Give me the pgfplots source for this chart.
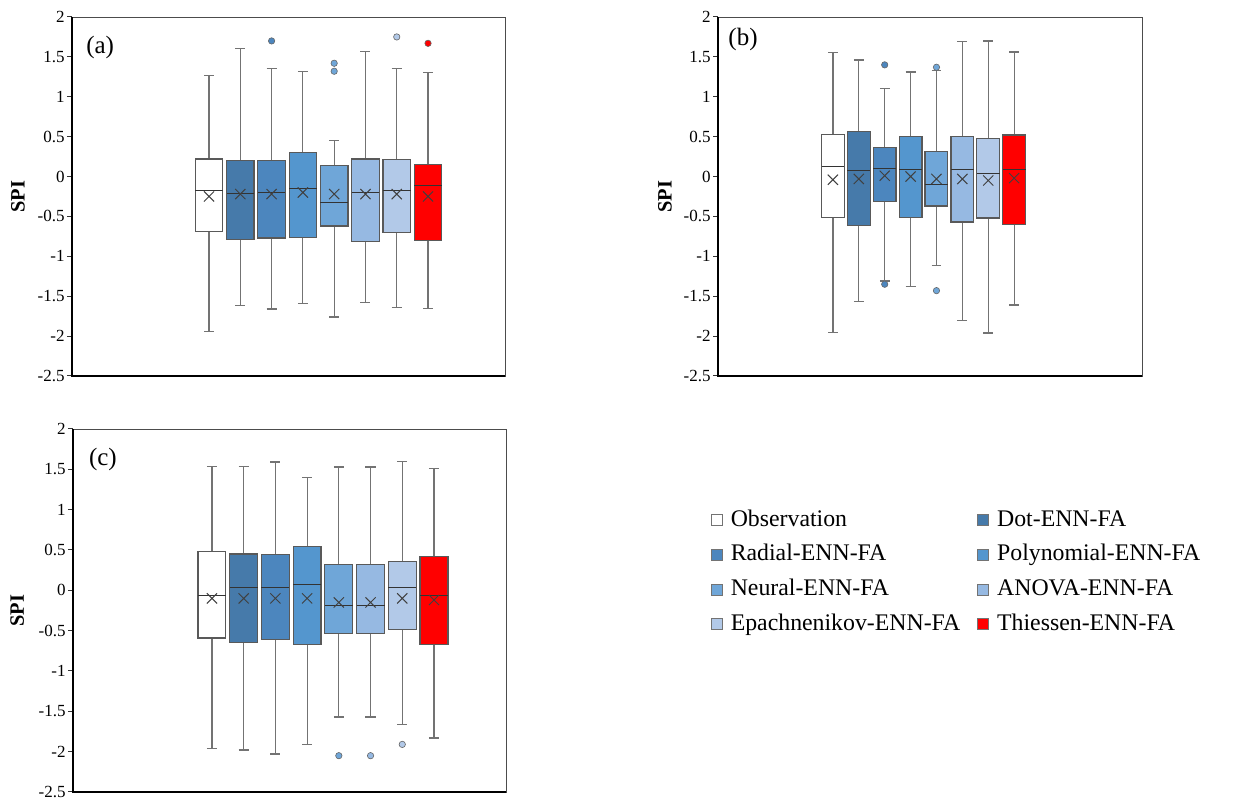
\documentclass[border=0pt]{standalone}
\usepackage{pgfplots}
\pgfplotsset{compat=1.18}
\usepgfplotslibrary{statistics}
\usepackage{fontspec}
\setmainfont{Liberation Serif}

\definecolor{cobs}{RGB}{255,255,255}
\definecolor{cdot}{RGB}{70,122,170}
\definecolor{crad}{RGB}{76,134,190}
\definecolor{cpol}{RGB}{84,150,206}
\definecolor{cneu}{RGB}{111,166,216}
\definecolor{canv}{RGB}{150,185,226}
\definecolor{cepa}{RGB}{178,201,232}
\definecolor{cthi}{RGB}{255,0,0}

\pgfplotsset{
  spipanel/.style={
    scale only axis,
    ymin=-2.5,ymax=2,
    ytick={-2.5,-2,-1.5,-1,-0.5,0,0.5,1,1.5,2},
    yticklabels={-2.5,-2,-1.5,-1,-0.5,0,0.5,1,1.5,2},
    xtick=\empty,
    ytick pos=left,
    tick align=outside,
    major tick length=2.5pt,
    tick style={black!80,line width=0.5pt},
    axis line style={black!70,line width=0.4pt},
    yticklabel style={font=\fontsize{8.5}{10}\selectfont,inner sep=1pt},
    ylabel={\textbf{SPI}},
    ylabel style={font=\fontsize{10.2}{12}\selectfont,anchor=center},
    boxplot/draw direction=y,
    boxplot/box extend=0.88,
    clip=false,
  },
  bx/.style={
    forget plot,
    boxplot/every box/.style={fill=#1,draw=black!65,line width=0.6pt},
    boxplot/every whisker/.style={draw=black!55,line width=0.6pt},
    boxplot/every median/.style={draw=black!80,line width=0.5pt},
  },
  meanx/.style={only marks,mark=x,mark size=3.6pt,forget plot,
    mark options={draw=black!75,line width=0.5pt}},
  outl/.style={only marks,mark=*,mark size=1.6pt,forget plot,
    mark options={fill=#1,draw=black!60,line width=0.3pt}},
  legimg/.style={legend image code/.code={
    \draw[##1,draw=black!55,line width=0.4pt] (0pt,-2.6pt) rectangle (5.5pt,2.9pt);}},
}

\begin{document}
\begin{tikzpicture}
\useasboundingbox (0,0) rectangle (616.5pt,400.5pt);

% ---------------- (a)
\begin{axis}[spipanel,
  at={(36pt,212.5pt)},anchor=south west,
  width=216.5pt,height=179.5pt,
  xmin=-3.38,xmax=10.46,
  ylabel style={at={(axis description cs:-0.125,0.5)}},
  boxplot/whisker extend=0.32]
\addplot[bx=cobs,boxplot prepared={draw position=1,lower whisker=-1.94,lower quartile=-0.69,median=-0.17,upper quartile=0.22,upper whisker=1.27}] coordinates {};
\addplot[bx=cdot,boxplot prepared={draw position=2,lower whisker=-1.62,lower quartile=-0.79,median=-0.21,upper quartile=0.20,upper whisker=1.61}] coordinates {};
\addplot[bx=crad,boxplot prepared={draw position=3,lower whisker=-1.66,lower quartile=-0.77,median=-0.20,upper quartile=0.20,upper whisker=1.35}] coordinates {};
\addplot[bx=cpol,boxplot prepared={draw position=4,lower whisker=-1.59,lower quartile=-0.76,median=-0.15,upper quartile=0.30,upper whisker=1.32}] coordinates {};
\addplot[bx=cneu,boxplot prepared={draw position=5,lower whisker=-1.76,lower quartile=-0.62,median=-0.33,upper quartile=0.14,upper whisker=0.45}] coordinates {};
\addplot[bx=canv,boxplot prepared={draw position=6,lower whisker=-1.58,lower quartile=-0.81,median=-0.20,upper quartile=0.22,upper whisker=1.57}] coordinates {};
\addplot[bx=cepa,boxplot prepared={draw position=7,lower whisker=-1.64,lower quartile=-0.70,median=-0.17,upper quartile=0.21,upper whisker=1.35}] coordinates {};
\addplot[bx=cthi,boxplot prepared={draw position=8,lower whisker=-1.65,lower quartile=-0.80,median=-0.11,upper quartile=0.15,upper whisker=1.30}] coordinates {};
\addplot[meanx] coordinates {(1,-0.25) (2,-0.22) (3,-0.22) (4,-0.20) (5,-0.22) (6,-0.22) (7,-0.22) (8,-0.25)};
\addplot[outl=crad] coordinates {(3,1.70)};
\addplot[outl=cneu] coordinates {(5,1.42) (5,1.32)};
\addplot[outl=cepa] coordinates {(7,1.75)};
\addplot[outl=cthi] coordinates {(8,1.67)};
\draw[black,line width=0.8pt] (rel axis cs:0,1) -- (rel axis cs:0,0) -- (rel axis cs:1,0);
\node[font=\fontsize{12.5}{14}\selectfont] at (rel axis cs:0.065,0.916) {(a)};
\end{axis}

% ---------------- (b)
\begin{axis}[spipanel,
  at={(359pt,212.5pt)},anchor=south west,
  width=212pt,height=179.5pt,
  xmin=-3.44,xmax=12.94,
  ylabel style={at={(axis description cs:-0.125,0.5)}},
  boxplot/whisker extend=0.38]
\addplot[bx=cobs,boxplot prepared={draw position=1,lower whisker=-1.95,lower quartile=-0.51,median=0.12,upper quartile=0.53,upper whisker=1.55}] coordinates {};
\addplot[bx=cdot,boxplot prepared={draw position=2,lower whisker=-1.57,lower quartile=-0.61,median=0.08,upper quartile=0.56,upper whisker=1.46}] coordinates {};
\addplot[bx=crad,boxplot prepared={draw position=3,lower whisker=-1.31,lower quartile=-0.31,median=0.10,upper quartile=0.36,upper whisker=1.10}] coordinates {};
\addplot[bx=cpol,boxplot prepared={draw position=4,lower whisker=-1.38,lower quartile=-0.51,median=0.09,upper quartile=0.50,upper whisker=1.31}] coordinates {};
\addplot[bx=cneu,boxplot prepared={draw position=5,lower whisker=-1.12,lower quartile=-0.37,median=-0.10,upper quartile=0.31,upper whisker=1.33}] coordinates {};
\addplot[bx=canv,boxplot prepared={draw position=6,lower whisker=-1.80,lower quartile=-0.57,median=0.09,upper quartile=0.50,upper whisker=1.69}] coordinates {};
\addplot[bx=cepa,boxplot prepared={draw position=7,lower whisker=-1.96,lower quartile=-0.52,median=0.04,upper quartile=0.48,upper whisker=1.70}] coordinates {};
\addplot[bx=cthi,boxplot prepared={draw position=8,lower whisker=-1.61,lower quartile=-0.60,median=0.09,upper quartile=0.52,upper whisker=1.56}] coordinates {};
\addplot[meanx] coordinates {(1,-0.04) (2,-0.03) (3,0.01) (4,0.00) (5,-0.03) (6,-0.03) (7,-0.05) (8,-0.02)};
\addplot[outl=crad] coordinates {(3,1.40) (3,-1.35)};
\addplot[outl=cneu] coordinates {(5,1.37) (5,-1.43)};
\draw[black,line width=0.8pt] (rel axis cs:0,1) -- (rel axis cs:0,0) -- (rel axis cs:1,0);
\node[font=\fontsize{12.5}{14}\selectfont] at (rel axis cs:0.059,0.936) {(b)};
\end{axis}

% ---------------- (c)
\begin{axis}[spipanel,
  at={(36.5pt,4.5pt)},anchor=south west,
  width=216.5pt,height=181.5pt,
  xmin=-3.38,xmax=10.27,
  ylabel style={at={(axis description cs:-0.129,0.5)}},
  boxplot/whisker extend=0.32,
  legimg,
  legend columns=2,
  legend cell align=left,
  legend style={at={(axis description cs:1.4734,0.7824)},anchor=north west,
    draw=none,fill=none,inner sep=0pt,outer sep=0pt,
    font=\fontsize{11.9}{13}\selectfont,
    nodes={inner sep=1pt,text height=8.2pt,text depth=2.5pt},
    row sep=4.6pt,
    /tikz/every odd column/.append style={column sep=3pt},
    /tikz/every even column/.append style={column sep=7.5pt}}]
\addplot[bx=cobs,boxplot prepared={draw position=1,lower whisker=-1.96,lower quartile=-0.59,median=-0.06,upper quartile=0.48,upper whisker=1.54}] coordinates {};
\addplot[bx=cdot,boxplot prepared={draw position=2,lower whisker=-1.98,lower quartile=-0.65,median=0.04,upper quartile=0.45,upper whisker=1.54}] coordinates {};
\addplot[bx=crad,boxplot prepared={draw position=3,lower whisker=-2.03,lower quartile=-0.61,median=0.04,upper quartile=0.44,upper whisker=1.59}] coordinates {};
\addplot[bx=cpol,boxplot prepared={draw position=4,lower whisker=-1.91,lower quartile=-0.67,median=0.07,upper quartile=0.54,upper whisker=1.40}] coordinates {};
\addplot[bx=cneu,boxplot prepared={draw position=5,lower whisker=-1.57,lower quartile=-0.54,median=-0.19,upper quartile=0.32,upper whisker=1.53}] coordinates {};
\addplot[bx=canv,boxplot prepared={draw position=6,lower whisker=-1.57,lower quartile=-0.54,median=-0.19,upper quartile=0.32,upper whisker=1.53}] coordinates {};
\addplot[bx=cepa,boxplot prepared={draw position=7,lower whisker=-1.66,lower quartile=-0.49,median=0.04,upper quartile=0.36,upper whisker=1.60}] coordinates {};
\addplot[bx=cthi,boxplot prepared={draw position=8,lower whisker=-1.83,lower quartile=-0.67,median=-0.06,upper quartile=0.42,upper whisker=1.51}] coordinates {};
\addplot[meanx] coordinates {(1,-0.10) (2,-0.10) (3,-0.10) (4,-0.10) (5,-0.15) (6,-0.15) (7,-0.10) (8,-0.12)};
\addplot[outl=cneu] coordinates {(5,-2.05)};
\addplot[outl=canv] coordinates {(6,-2.05)};
\addplot[outl=cepa] coordinates {(7,-1.91)};
\draw[black,line width=0.8pt] (rel axis cs:0,1) -- (rel axis cs:0,0) -- (rel axis cs:1,0);
\node[font=\fontsize{12.5}{14}\selectfont] at (rel axis cs:0.069,0.915) {(c)};
\addlegendimage{fill=cobs}\addlegendentry{Observation}
\addlegendimage{fill=cdot}\addlegendentry{Dot-ENN-FA}
\addlegendimage{fill=crad}\addlegendentry{Radial-ENN-FA}
\addlegendimage{fill=cpol}\addlegendentry{Polynomial-ENN-FA}
\addlegendimage{fill=cneu}\addlegendentry{Neural-ENN-FA}
\addlegendimage{fill=canv}\addlegendentry{ANOVA-ENN-FA}
\addlegendimage{fill=cepa}\addlegendentry{Epachnenikov-ENN-FA}
\addlegendimage{fill=cthi}\addlegendentry{Thiessen-ENN-FA}
\end{axis}
\end{tikzpicture}
\end{document}
